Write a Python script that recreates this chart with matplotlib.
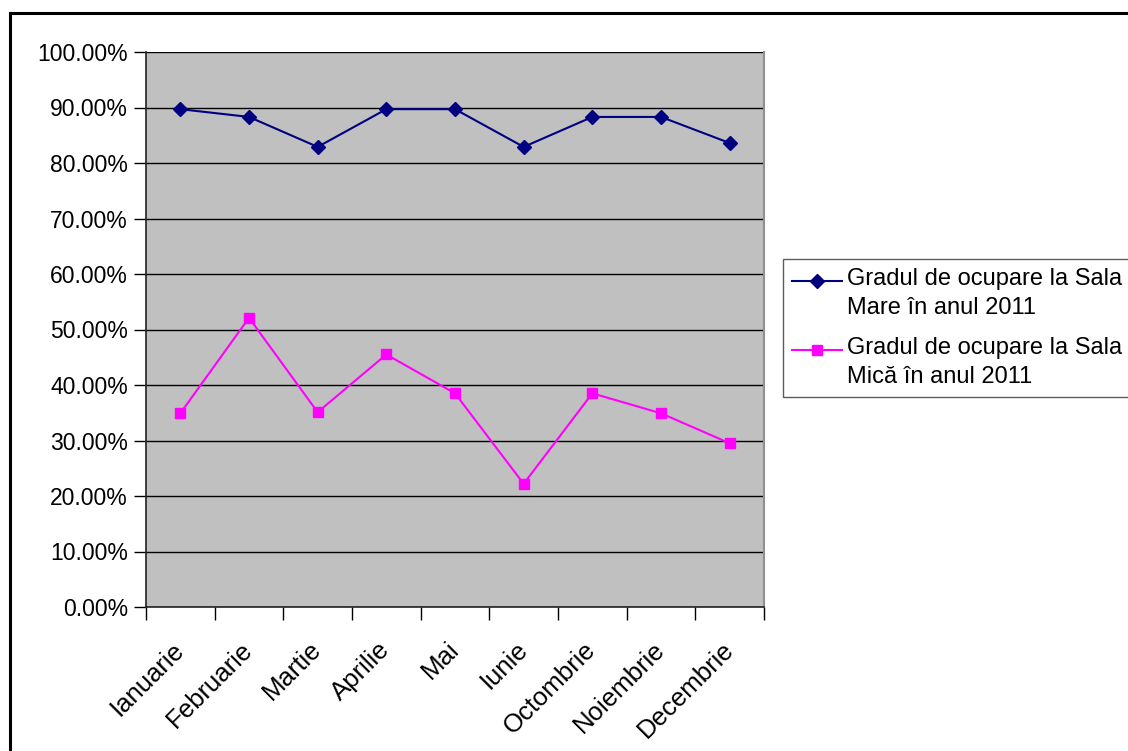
import matplotlib
matplotlib.use('Agg')
import matplotlib.pyplot as plt
from matplotlib.lines import Line2D
from matplotlib.legend_handler import HandlerLine2D
from matplotlib.ticker import FuncFormatter, MultipleLocator

plt.rcParams['font.family'] = ['Liberation Sans', 'DejaVu Sans']

# data
luni = ['Ianuarie', 'Februarie', 'Martie', 'Aprilie', 'Mai', 'Iunie',
        'Octombrie', 'Noiembrie', 'Decembrie']
sala_mare = [89.7, 88.3, 82.9, 89.7, 89.7, 82.9, 88.3, 88.3, 83.6]
sala_mica = [34.9, 52.1, 35.1, 45.5, 38.5, 22.2, 38.5, 34.9, 29.5]
label_mare = 'Gradul de ocupare la Sala\nMare în anul 2011'
label_mica = 'Gradul de ocupare la Sala\nMică în anul 2011'


class HandlerUp(HandlerLine2D):
    # raise the legend line so it sits next to the first text line
    def __init__(self, up=0.5, **kw):
        super().__init__(**kw)
        self.up = up

    def create_artists(self, legend, orig_handle, xdescent, ydescent,
                       width, height, fontsize, trans):
        return super().create_artists(legend, orig_handle, xdescent, ydescent,
                                      width, height + 2 * self.up * fontsize,
                                      fontsize, trans)


W, H = 1128, 751
fig = plt.figure(figsize=(W / 100, H / 100), dpi=100)

# plot area in pixel coords of the reference
left, top, right, bottom = 146, 52, 764, 607
ax = fig.add_axes([left / W, 1 - bottom / H, (right - left) / W, (bottom - top) / H])
ax.set_facecolor('#C0C0C0')

x = list(range(len(luni)))
l1, = ax.plot(x, sala_mare, color='#000080', lw=1.5, marker='D', markersize=7,
              label=label_mare, zorder=3)
l2, = ax.plot(x, sala_mica, color='#FF00FF', lw=1.5, marker='s', markersize=7,
              label=label_mica, zorder=3)

ax.set_xlim(-0.5, len(luni) - 0.5)
ax.set_ylim(0, 100)
ax.yaxis.set_major_locator(MultipleLocator(10))
ax.yaxis.set_major_formatter(FuncFormatter(lambda v, p: '{:.2f}%'.format(v)))
ax.grid(axis='y', color='black', lw=1)
ax.set_axisbelow(True)

# category ticks sit between the points
ax.set_xticks([i - 0.5 for i in range(len(luni) + 1)], minor=False)
ax.set_xticklabels([])
ax.set_xticks(x, minor=True)
ax.set_xticklabels(luni, minor=True, rotation=45, ha='right', va='center',
                   rotation_mode='anchor', fontsize=18.5)
ax.tick_params(axis='x', which='minor', length=0, pad=28)
ax.tick_params(axis='x', which='major', length=9, width=1, color='black')
ax.tick_params(axis='y', length=9, width=1, labelsize=16.5, pad=4)

for s in ['left', 'bottom']:
    ax.spines[s].set_color('#222222')
    ax.spines[s].set_linewidth(1.2)
ax.spines['top'].set_visible(False)
ax.spines['right'].set_color('#909090')
ax.spines['right'].set_linewidth(1.5)

hmap = {l1: HandlerUp(up=0.55), l2: HandlerUp(up=0.55)}
leg = fig.legend(loc='upper left', bbox_to_anchor=(783 / W, 1 - 259 / H),
                 fontsize=17, frameon=True, fancybox=False, handlelength=2.1,
                 handletextpad=0.2, borderpad=0.4, labelspacing=0.75,
                 borderaxespad=0, handler_map=hmap)
leg.get_frame().set_edgecolor('#333333')
leg.get_frame().set_linewidth(1)
for t in leg.get_texts():
    t.set_linespacing(1.4)

# outer border (only top and left show)
fig.add_artist(Line2D([10 / W, 1], [1 - 13 / H, 1 - 13 / H], color='black', lw=2.2))
fig.add_artist(Line2D([10 / W, 10 / W], [0, 1 - 13 / H], color='black', lw=2.2))

fig.savefig('out.png', dpi=100)
